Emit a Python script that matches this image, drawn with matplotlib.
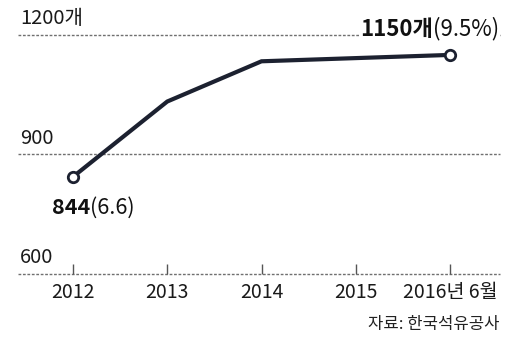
import matplotlib
matplotlib.use("Agg")
import matplotlib.pyplot as plt
from matplotlib.transforms import blended_transform_factory

plt.rcParams['font.family'] = ['Noto Sans CJK KR', 'DejaVu Sans']

# Data
years = ['2012', '2013', '2014', '2015', '2016년 6월']
stations = [844, 1033, 1134, 1142, 1150]
first_value_label = '844'
first_share_label = '(6.6)'
last_value_label = '1150개'
last_share_label = '(9.5%)'
y_ticks = [600, 900, 1200]
y_tick_labels = ['600', '900', '1200개']
source = '자료: 한국석유공사'

W, H = 523, 339
fig = plt.figure(figsize=(W / 100, H / 100), dpi=100)
left_px, right_px = 18, 500
top_px, bottom_px = 35, 274
ax = fig.add_axes([left_px / W, 1 - bottom_px / H, (right_px - left_px) / W, (bottom_px - top_px) / H])

x = list(range(len(years)))
ppu = (450 - 73) / 4
ax.set_xlim(0 - (73 - left_px) / ppu, 4 + (right_px - 450) / ppu)
ax.set_ylim(600, 1200)

for s in ax.spines.values():
    s.set_visible(False)

grid_color = '#707070'
for yv in y_ticks:
    ax.axhline(yv, color=grid_color, lw=1.0, ls=(0, (2, 1.2)), zorder=1, clip_on=False)

ax.set_yticks([])
ax.set_xticks(x)
ax.set_xticklabels(years, fontsize=14, color='#1a1a1a', fontweight='medium')
ax.tick_params(axis='x', direction='in', length=7, width=1, color='#555555', pad=6)

ax.plot(x, stations, color='#1c2130', lw=3.0, solid_joinstyle='miter', zorder=3, clip_on=False)
ax.plot([x[0], x[-1]], [stations[0], stations[-1]], 'o', ms=7.5, mfc='white', mec='#1c2130',
        mew=2.0, zorder=4, clip_on=False)

trans = blended_transform_factory(ax.transAxes, ax.transData)
for yv, lab in zip(y_ticks, y_tick_labels):
    ax.text(0.004, yv + 14, lab, transform=trans, ha='left', va='bottom', fontsize=14.5,
            color='#1a1a1a', fontweight='medium', zorder=5)

# first point label
t1 = ax.annotate(first_value_label, xy=(x[0], stations[0]), xytext=(-21, -31),
                 textcoords='offset pixels', ha='left', va='center', fontsize=15.5,
                 fontweight='bold', color='#111111', annotation_clip=False)
ax.annotate(first_share_label, xy=(1, 0), xycoords=t1, ha='left', va='bottom',
            fontsize=15.5, color='#111111', fontweight='medium')

# last point label
t2 = ax.annotate(last_share_label, xy=(x[-1], stations[-1]), xytext=(49, 26),
                 textcoords='offset pixels', ha='right', va='center', fontsize=16,
                 color='#111111', fontweight='medium', annotation_clip=False,
                 bbox=dict(facecolor='white', edgecolor='none', pad=1))
ax.annotate(last_value_label, xy=(0, 0), xycoords=t2, ha='right', va='bottom',
            fontsize=16, fontweight='bold', color='#111111',
            bbox=dict(facecolor='white', edgecolor='none', pad=1))

fig.text(500 / W, 1 - 324 / H, source, ha='right', va='center', fontsize=12,
         fontweight='medium', color='#222222')

fig.savefig('out.png', dpi=100, facecolor='white')
